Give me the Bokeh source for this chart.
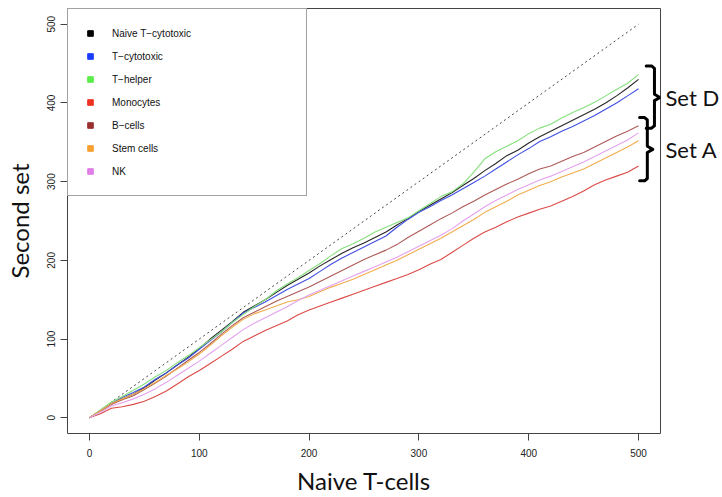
from bokeh.plotting import figure
from bokeh.models import (ColumnDataSource, Legend, LegendItem, FixedTicker, LinearAxis)
from bokeh.embed import file_html
from bokeh.resources import INLINE
import numpy as np

# ---------------- data ----------------
x_vals = list(range(0, 501, 10))

naive_t_cytotoxic = [0, 9, 18, 24, 30, 38, 48, 57, 67, 77, 88, 100, 111, 122, 134, 142, 150, 159, 168, 176,
                     184, 193, 201, 209, 216, 222, 229, 236, 245, 253, 262, 270, 278, 286, 295, 304, 314, 323,
                     333, 340, 349, 357, 364, 371, 378, 385, 392, 400, 409, 419, 430]
t_cytotoxic = [0, 9, 18, 26, 32, 39, 49, 57, 67, 76, 87, 98, 109, 121, 133, 140, 147, 155, 163, 170,
               177, 186, 195, 203, 210, 217, 224, 231, 242, 252, 261, 268, 276, 283, 291, 299, 307, 316,
               325, 334, 342, 351, 357, 364, 370, 377, 384, 392, 400, 409, 418]
t_helper = [0, 10, 20, 27, 35, 43, 52, 60, 70, 79, 89, 99, 109, 121, 131, 141, 150, 161, 170, 178,
            187, 196, 206, 215, 221, 228, 236, 242, 248, 254, 263, 272, 281, 287, 297, 312, 329, 338,
            345, 352, 361, 368, 373, 381, 388, 394, 401, 409, 417, 425, 436]
monocytes = [0, 5, 12, 14, 17, 21, 27, 34, 43, 52, 60, 69, 78, 87, 97, 104, 111, 117, 123, 131,
             137, 142, 147, 152, 157, 162, 167, 172, 177, 182, 188, 195, 201, 210, 219, 228, 236, 242,
             249, 255, 260, 265, 269, 275, 281, 288, 296, 302, 307, 312, 320]
b_cells = [0, 8, 17, 23, 28, 36, 44, 53, 63, 73, 83, 94, 106, 117, 127, 134, 141, 148, 154, 160,
           166, 173, 180, 187, 194, 201, 207, 213, 220, 229, 237, 245, 253, 260, 268, 275, 283, 290,
           297, 303, 310, 316, 320, 326, 332, 337, 344, 351, 358, 364, 371]
stem_cells = [0, 9, 18, 24, 30, 37, 45, 54, 62, 71, 81, 92, 104, 115, 125, 132, 137, 142, 147, 150,
              154, 160, 166, 171, 176, 182, 188, 194, 200, 207, 214, 221, 228, 236, 244, 252, 261, 268,
              275, 283, 289, 295, 300, 306, 311, 316, 323, 330, 337, 344, 352]
nk = [0, 7, 15, 19, 24, 30, 37, 45, 54, 63, 72, 82, 92, 102, 112, 120, 127, 134, 141, 149,
      156, 162, 168, 174, 180, 186, 192, 198, 204, 211, 218, 225, 232, 240, 250, 259, 268, 276,
      283, 290, 296, 302, 307, 313, 319, 325, 332, 339, 346, 353, 362]

series_names = ["Naive T\u2212cytotoxic", "T\u2212cytotoxic", "T\u2212helper", "Monocytes",
                "B\u2212cells", "Stem cells", "NK"]
series_values = [naive_t_cytotoxic, t_cytotoxic, t_helper, monocytes, b_cells, stem_cells, nk]
line_colors = ["#262626", "#3f4fe0", "#86e07c", "#dc4a46", "#ad5a56", "#f2ac4e", "#e3a2ef"]
legend_colors = ["#000000", "#1a3cff", "#5aee48", "#ee3322", "#9a3030", "#f5a030", "#e07de6"]

identity = [0, 500]
ticks = [0, 100, 200, 300, 400, 500]

set_d_brace = dict(top=447, bottom=368, mid=407, left=507, stem=514.5, tip=519.5)
set_a_brace = dict(top=381.5, bottom=301, mid=341, left=501, stem=508, tip=513)
set_label_names = ["Set D", "Set A"]
set_label_y = [407, 341]

# ---------------- figure ----------------
p = figure(width=722, height=497, x_range=(-20, 520), y_range=(-20, 520),
           output_backend="svg", toolbar_location=None,
           min_border_left=67, min_border_right=61, min_border_top=8, min_border_bottom=61,
           background_fill_color="white", border_fill_color="white")
p.grid.visible = False
p.outline_line_color = "#444444"
p.outline_line_width = 1

for ax in (p.xaxis[0], p.yaxis[0]):
    ax.ticker = FixedTicker(ticks=ticks)
    ax.minor_tick_line_color = None
    ax.major_tick_in = 0
    ax.major_tick_out = 7
    ax.major_tick_line_color = "#444444"
    ax.axis_line_color = None
    ax.major_label_text_font = "Liberation Sans"
    ax.major_label_text_font_size = "10px"
    ax.major_label_text_color = "#222222"
    ax.axis_label_text_font = "Lato"
    ax.axis_label_text_font_size = "24px"
    ax.axis_label_text_font_style = "normal"
    ax.axis_label_text_color = "#111111"

p.xaxis.axis_label = "Naive T-cells"
p.yaxis.axis_label = "Second set"
p.xaxis.major_label_standoff = 8
p.xaxis.axis_label_standoff = 6
p.yaxis.major_label_standoff = 5
p.yaxis.axis_label_standoff = 11
p.yaxis.major_label_orientation = "vertical"

# right-side group labels (as an axis so they sit outside the frame)
set_axis = LinearAxis(ticker=FixedTicker(ticks=set_label_y),
                      major_label_overrides={y: t for y, t in zip(set_label_y, set_label_names)},
                      major_tick_line_color=None, minor_tick_line_color=None, axis_line_color=None,
                      major_tick_in=0, major_tick_out=0, major_label_standoff=5,
                      major_label_text_font="Lato", major_label_text_font_size="22px",
                      major_label_text_color="#111111", major_label_orientation="horizontal")
p.add_layout(set_axis, "right")

# diagonal reference
p.line(identity, identity, line_color="#444444", line_width=1, line_dash="2 3")

# series lines
for vals, col in zip(series_values, line_colors):
    p.line(x_vals, vals, line_color=col, line_width=1.1)

# legend with square swatches
items = []
for name, col in zip(series_names, legend_colors):
    src = ColumnDataSource(dict(x=[np.nan], y=[np.nan]))
    r = p.scatter("x", "y", source=src, marker="square", fill_color=col, line_color=col, size=6)
    items.append(LegendItem(label=name, renderers=[r]))

legend = Legend(items=items, location="top_left", margin=0, padding=15, spacing=5,
                glyph_width=14, glyph_height=18, label_height=18, label_width=179,
                label_standoff=15, border_line_color="#444444", border_line_width=1,
                background_fill_color="white", background_fill_alpha=1,
                label_text_font="Liberation Sans", label_text_font_size="10px",
                label_text_color="#111111")
p.add_layout(legend, "center")

# braces
def brace_path(b):
    r = (b["stem"] - b["left"]) * 0.35
    xs = [b["left"], b["stem"] - r, b["stem"], b["stem"], b["tip"], b["stem"], b["stem"], b["stem"] - r, b["left"]]
    ys = [b["top"], b["top"], b["top"] - 3, b["mid"] + 4, b["mid"], b["mid"] - 4, b["bottom"] + 3, b["bottom"], b["bottom"]]
    return xs, ys

for b in (set_d_brace, set_a_brace):
    xs, ys = brace_path(b)
    p.line(xs, ys, line_color="black", line_width=3, line_join="round", line_cap="round")

open("out.html", "w").write(file_html(p, INLINE))
